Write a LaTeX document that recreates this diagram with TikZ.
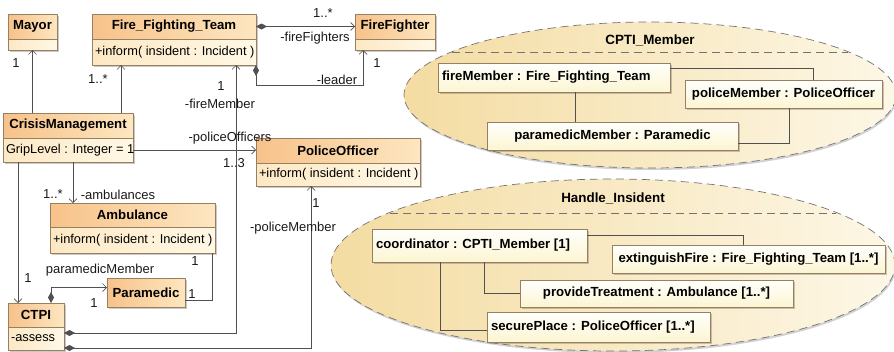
\documentclass[tikz,border=0pt]{standalone}
\usepackage{fontspec}
\setmainfont{Liberation Sans}
\usetikzlibrary{arrows.meta,calc,shadows,shapes.geometric}

\definecolor{hdrL}{RGB}{247,194,138}
\definecolor{hdrR}{RGB}{253,230,192}
\definecolor{bdyL}{RGB}{253,232,196}
\definecolor{bdyR}{RGB}{255,248,230}
\definecolor{boxline}{RGB}{150,128,95}
\definecolor{connc}{RGB}{80,80,80}
\definecolor{ellL}{RGB}{244,220,162}
\definecolor{ellR}{RGB}{253,247,230}
\definecolor{objT}{RGB}{255,255,252}
\definecolor{objB}{RGB}{252,245,210}

\tikzset{
  lblfont/.style={font=\fontsize{13}{15}\selectfont},
  shd/.style={drop shadow={shadow xshift=2pt,shadow yshift=-2pt,opacity=0.35,fill=black!60}},
  hdr/.style={draw=boxline, line width=0.6pt, left color=hdrL, right color=hdrR,
    inner sep=1pt, outer sep=0pt, anchor=north west,
    font=\fontsize{13.2}{15}\selectfont\bfseries, shd},
  bdy/.style={draw=boxline, line width=0.6pt, left color=bdyL, right color=bdyR,
    inner xsep=3pt, inner ysep=1pt, outer sep=0pt, anchor=north west,
    font=\fontsize{12.8}{14}\selectfont, shd},
  obj/.style={draw=boxline, line width=0.6pt, top color=objT, bottom color=objB,
    anchor=north west, inner xsep=4pt, inner ysep=1pt, outer sep=0pt,
    font=\fontsize{13.2}{15}\selectfont\bfseries, shd},
  conn/.style={draw=connc, line width=0.7pt},
  oarr/.style={-{Straight Barb[length=4pt,width=8pt]}},
  dia/.style={{Diamond[length=11pt,width=6pt,fill=connc]}-{Straight Barb[length=4pt,width=8pt]}},
  lbl/.style={inner sep=0pt, text=black!90, lblfont},
  ell/.style={ellipse, draw=black!55, dash pattern=on 8pt off 5pt, line width=0.7pt,
    left color=ellL, right color=ellR, inner sep=0pt,
    drop shadow={shadow xshift=1pt,shadow yshift=-2pt,opacity=0.3,fill=black!60}},
  chord/.style={draw=black!55, dash pattern=on 8pt off 5pt, line width=0.7pt},
  etitle/.style={inner sep=0pt, font=\fontsize{13.4}{15}\selectfont\bfseries},
}

\begin{document}
\begin{tikzpicture}[x=1pt,y=-1pt]
\path[use as bounding box] (0,0) rectangle (894,351);
\clip (0,0) rectangle (894,351);

% ---------- ellipses ----------
\node[ell, minimum width=492pt, minimum height=146pt] (cptiE) at (650,95) {};
\node[etitle] (cptiT) at (650,40) {CPTI\_Member};
\draw[chord] (452,52) -- (848,52);

\node[ell, minimum width=564pt, minimum height=172pt] (handE) at (613,265) {};
\node[etitle] (handT) at (613,198) {Handle\_Insident};
\draw[chord] (390,213) -- (836,213);

% ---------- object boxes ----------
\node[obj, minimum width=232pt, minimum height=29pt] (fm) at (438,63) {\makebox[224pt][l]{fireMember : Fire\_Fighting\_Team}};
\node[obj, minimum width=197pt, minimum height=28pt] (pm) at (685,80) {policeMember : PoliceOfficer};
\node[obj, minimum width=251pt, minimum height=28pt] (pmm) at (487,122) {paramedicMember : Paramedic};

\node[obj, minimum width=215pt, minimum height=33pt] (co) at (372,229) {\makebox[207pt][l]{coordinator : CPTI\_Member [1]}};
\node[obj, minimum width=273pt, minimum height=28pt] (ext) at (612,245) {extinguishFire : Fire\_Fighting\_Team [1..*]};
\node[obj, minimum width=273pt, minimum height=27pt] (prov) at (520,280) {provideTreatment : Ambulance [1..*]};
\node[obj, minimum width=223pt, minimum height=30pt] (sp) at (487,312) {\makebox[215pt][l]{securePlace : PoliceOfficer [1..*]}};

\draw[conn] ($(fm.north east)+(0,5)$) -| ($(pm.north west)+(128,0)$);
\draw[conn] ($(fm.south west)+(137,0)$) -- ($(pmm.north west)+(88,0)$);
\draw[conn] ($(pm.south west)+(104,0)$) |- ($(pmm.east)+(0,7)$);

\draw[conn] ($(co.north east)+(0,6)$) -| ($(ext.north west)+(131,0)$);
\draw[conn] ($(co.south west)+(112,0)$) |- (prov.west);
\draw[conn] ($(co.south west)+(68,0)$) |- ($(sp.west)+(0,3)$);

% ---------- classes ----------
\node[hdr, minimum width=49pt, minimum height=25pt] (mayor) at (8,14) {Mayor};
\node[bdy, minimum width=49pt, minimum height=11pt] (mayorB) at (mayor.south west) {};

\node[hdr, minimum width=164pt, minimum height=25pt] (fft) at (92,14) {Fire\_Fighting\_Team};
\node[bdy, minimum width=164pt, minimum height=26pt] (fftB) at (fft.south west) {\makebox[158pt][l]{+inform( insident : Incident )}};

\node[hdr, minimum width=80pt, minimum height=25pt] (ff) at (355,14) {FireFighter};
\node[bdy, minimum width=80pt, minimum height=11pt] (ffB) at (ff.south west) {};

\node[hdr, minimum width=130pt, minimum height=25pt] (cm) at (3,113) {CrisisManagement};
\node[bdy, minimum width=130pt, minimum height=24pt] (cmB) at (cm.south west) {\makebox[124pt][l]{GripLevel : Integer = 1}};

\node[hdr, minimum width=164pt, minimum height=25pt] (po) at (256,138) {PoliceOfficer};
\node[bdy, minimum width=164pt, minimum height=23pt] (poB) at (po.south west) {\makebox[158pt][l]{+inform( insident : Incident )}};

\node[hdr, minimum width=165pt, minimum height=24pt] (amb) at (50,203) {Ambulance};
\node[bdy, minimum width=165pt, minimum height=26pt] (ambB) at (amb.south west) {\makebox[159pt][l]{+inform( insident : Incident )}};

\node[hdr, minimum width=78pt, minimum height=29pt] (param) at (107,278) {Paramedic};

\node[hdr, minimum width=56pt, minimum height=24pt] (ctpi) at (8,303) {CTPI};
\node[bdy, minimum width=56pt, minimum height=23pt] (ctpiB) at (ctpi.south west) {\makebox[50pt][l]{-assess}};

% ---------- connectors ----------
\draw[conn,oarr] (cm.north -| mayorB.south) -- (mayorB.south);
\draw[conn,oarr] ($(cm.north west)+(118,0)$) -- ($(fftB.south west)+(29,0)$);
\draw[conn,dia] (fft.east) -- (ff.west);
\draw[conn,dia] (fftB.south east) -- ++(0,20) -| ($(ffB.south west)+(8,0)$);
\draw[conn,oarr] (cmB.east) -- (cmB.east -| po.west);
\draw[conn,dia] ($(ctpiB.north east)+(0,6)$) -| ($(fftB.south west)+(144,0)$);
\draw[conn,dia] ($(ctpiB.north east)+(0,21)$) -| ($(poB.south west)+(55,0)$);
\draw[conn,oarr] ($(cmB.south west)+(70,0)$) -- ($(amb.north west)+(23,0)$);
\draw[conn,oarr] ($(cmB.south west)+(15,0)$) -- ($(ctpi.north west)+(10,0)$);
\draw[conn,dia] ($(ctpi.north west)+(43,0)$) |- ($(param.west)+(0,-5)$);
\draw[conn] ($(ambB.south east)+(-3,0)$) |- ($(param.east)+(0,8)$);

% ---------- labels ----------
\node[lbl] (l1) at (16,63) {1};
\node[lbl] (l2) at (98,79) {1..*};
\node[lbl] (l3) at (323,13) {1..*};
\node[lbl] (l4) at (315,38) {-fireFighters};
\node[lbl] (l5) at (377,63) {1};
\node[lbl] (l6) at (337,80) {-leader};
\node[lbl] (l7) at (221,86) {1};
\node[lbl] (l8) at (220,104) {-fireMember};
\node[lbl] (l9) at (230,138) {-policeOfficers};
\node[lbl] (l10) at (234,163) {1..3};
\node[lbl] (l11) at (53,194) {1..*};
\node[lbl] (l12) at (118,195) {-ambulances};
\node[lbl] (l13) at (195,261) {1};
\node[lbl] (l14) at (100,270) {paramedicMember};
\node[lbl] (l15) at (28,278) {1};
\node[lbl] (l16) at (94,303) {1};
\node[lbl] (l17) at (192,294) {1};
\node[lbl] (l18) at (316,203) {1};
\node[lbl] (l19) at (293,228) {-policeMember};
\end{tikzpicture}
\end{document}
